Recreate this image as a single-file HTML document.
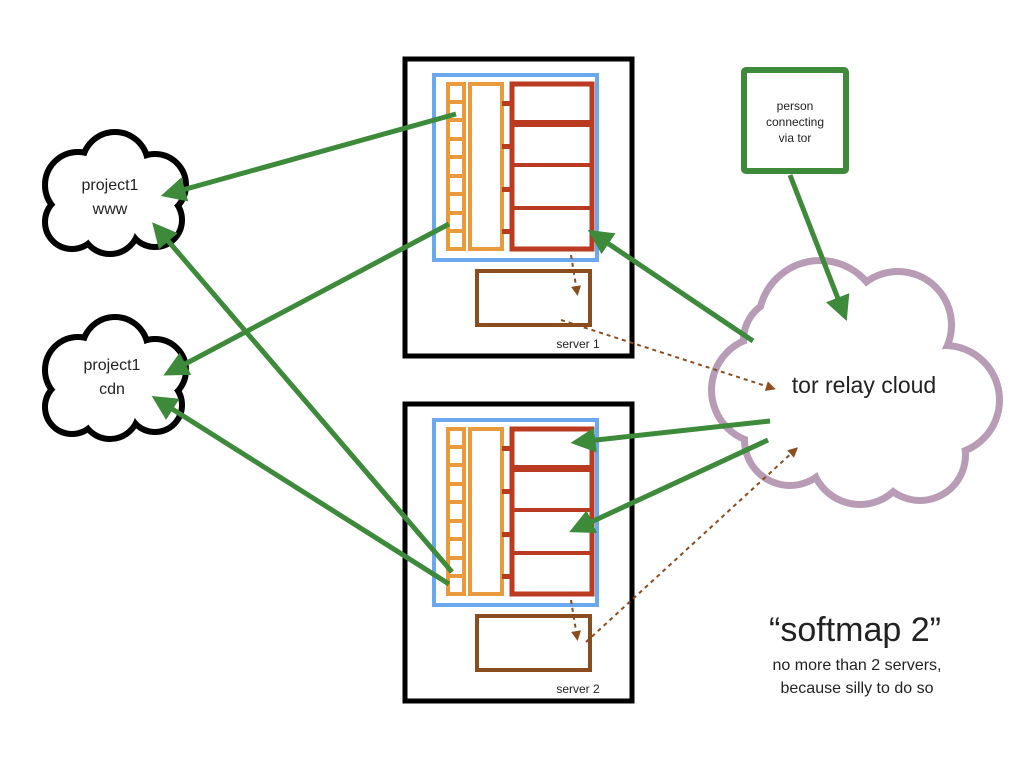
<!DOCTYPE html>
<html><head><meta charset="utf-8"><style>body{margin:0;background:#fff}svg{display:block}text{font-family:"Liberation Sans",sans-serif;fill:#222}</style></head><body>
<svg width="1024" height="768" viewBox="0 0 1024 768" xmlns="http://www.w3.org/2000/svg">
<defs>
<marker id="ga" markerWidth="5" markerHeight="5" refX="3.5" refY="2.5" orient="auto" markerUnits="strokeWidth"><path d="M0,0 L5,2.5 L0,5 Z" fill="#3c8a3a"/></marker>
<marker id="ba" markerWidth="5" markerHeight="5" refX="3" refY="2.5" orient="auto" markerUnits="strokeWidth"><path d="M0,0 L5,2.5 L0,5 Z" fill="#8b4c1e"/></marker>
<g id="srv">
<rect x="405" y="59" width="227" height="297" fill="#fff" stroke="#000" stroke-width="5"/>
<rect x="434" y="75" width="163" height="185" fill="none" stroke="#6aa8ef" stroke-width="4"/>
<rect x="448" y="84" width="16" height="165" fill="none" stroke="#e89a3c" stroke-width="4"/>
<g fill="#e89a3c">
<rect x="448" y="100" width="16" height="4"/><rect x="448" y="118" width="16" height="4"/><rect x="448" y="137" width="16" height="4"/><rect x="448" y="155" width="16" height="4"/><rect x="448" y="174" width="16" height="4"/><rect x="448" y="192" width="16" height="4"/><rect x="448" y="211" width="16" height="4"/><rect x="448" y="229" width="16" height="4"/>
</g>
<rect x="470" y="84" width="32" height="165" fill="none" stroke="#e89a3c" stroke-width="4"/>
<rect x="512" y="84" width="80" height="165" fill="none" stroke="#bb3a22" stroke-width="5"/>
<rect x="512" y="120" width="80" height="7" fill="#bb3a22"/>
<rect x="512" y="163" width="80" height="4" fill="#bb3a22"/>
<rect x="512" y="206" width="80" height="4" fill="#bb3a22"/>
<g fill="#bb3a22"><rect x="502" y="101" width="10" height="5"/><rect x="502" y="144" width="10" height="5"/><rect x="502" y="187" width="10" height="5"/><rect x="502" y="229" width="10" height="5"/></g>
<rect x="477" y="271" width="113" height="54" fill="none" stroke="#8b4c1e" stroke-width="4"/>
</g>
</defs>
<use href="#srv"/>
<text x="578" y="348" font-size="12" text-anchor="middle">server 1</text>
<use href="#srv" transform="translate(0,345)"/>
<text x="578" y="693" font-size="12" text-anchor="middle">server 2</text>

<g stroke="#000" stroke-width="12" fill="#fff">
<circle cx="78" cy="185" r="30"/><circle cx="115" cy="165" r="30"/><circle cx="155" cy="185" r="28"/><circle cx="155" cy="220" r="24"/><circle cx="110" cy="225" r="26"/><circle cx="72" cy="222" r="24"/>
</g>
<g fill="#fff">
<circle cx="78" cy="185" r="30"/><circle cx="115" cy="165" r="30"/><circle cx="155" cy="185" r="28"/><circle cx="155" cy="220" r="24"/><circle cx="110" cy="225" r="26"/><circle cx="72" cy="222" r="24"/><rect x="75" y="170" width="80" height="55"/>
</g>
<text x="110" y="190" font-size="16" text-anchor="middle">project1</text>
<text x="110" y="214" font-size="16" text-anchor="middle">www</text>
<g transform="translate(0,185)">
<g stroke="#000" stroke-width="12" fill="#fff">
<circle cx="78" cy="185" r="30"/><circle cx="115" cy="165" r="30"/><circle cx="155" cy="185" r="28"/><circle cx="155" cy="220" r="24"/><circle cx="110" cy="225" r="26"/><circle cx="72" cy="222" r="24"/>
</g>
<g fill="#fff">
<circle cx="78" cy="185" r="30"/><circle cx="115" cy="165" r="30"/><circle cx="155" cy="185" r="28"/><circle cx="155" cy="220" r="24"/><circle cx="110" cy="225" r="26"/><circle cx="72" cy="222" r="24"/><rect x="75" y="170" width="80" height="55"/>
</g>
</g>
<text x="112" y="370" font-size="16" text-anchor="middle">project1</text>
<text x="112" y="394" font-size="16" text-anchor="middle">cdn</text>

<g stroke="#b89bb5" stroke-width="14" fill="#fff">
<circle cx="820" cy="322" r="58"/><circle cx="898" cy="325" r="50"/><circle cx="945" cy="400" r="51"/><circle cx="920" cy="455" r="42"/><circle cx="860" cy="455" r="46"/><circle cx="790" cy="440" r="42"/><circle cx="765" cy="390" r="50"/><circle cx="785" cy="340" r="38"/>
</g>
<g fill="#fff">
<circle cx="820" cy="322" r="58"/><circle cx="898" cy="325" r="50"/><circle cx="945" cy="400" r="51"/><circle cx="920" cy="455" r="42"/><circle cx="860" cy="455" r="46"/><circle cx="790" cy="440" r="42"/><circle cx="765" cy="390" r="50"/><circle cx="785" cy="340" r="38"/><rect x="770" y="330" width="170" height="130"/>
</g>
<text x="864" y="393" font-size="23" text-anchor="middle">tor relay cloud</text>

<rect x="744" y="70" width="102" height="101" fill="#fff" stroke="#3c8a3a" stroke-width="6" rx="2"/>
<text x="795" y="110" font-size="12" text-anchor="middle">person</text>
<text x="795" y="126" font-size="12" text-anchor="middle">connecting</text>
<text x="795" y="142" font-size="12" text-anchor="middle">via tor</text>

<g stroke="#3c8a3a" stroke-width="5" fill="none" marker-end="url(#ga)">
<line x1="456" y1="114" x2="168" y2="194"/>
<line x1="449" y1="224" x2="170" y2="372"/>
<line x1="753" y1="341" x2="594" y2="234"/>
<line x1="452" y1="572" x2="157" y2="228"/>
<line x1="449" y1="584" x2="158" y2="400"/>
<line x1="770" y1="421" x2="578" y2="442"/>
<line x1="768" y1="440" x2="576" y2="529"/>
<line x1="790" y1="175" x2="844" y2="314"/>
</g>
<g stroke="#8b4c1e" stroke-width="2" stroke-dasharray="4,4" fill="none" marker-end="url(#ba)">
<line x1="571" y1="255" x2="577" y2="292"/>
<line x1="561" y1="320" x2="772" y2="388"/>
<line x1="571" y1="600" x2="577" y2="637"/>
<line x1="586" y1="642" x2="795" y2="450"/>
</g>

<text x="855" y="641" font-size="34" text-anchor="middle">“softmap 2”</text>
<text x="857" y="670" font-size="16" text-anchor="middle">no more than 2 servers,</text>
<text x="857" y="693" font-size="16" text-anchor="middle">because silly to do so</text>
</svg>
</body></html>
